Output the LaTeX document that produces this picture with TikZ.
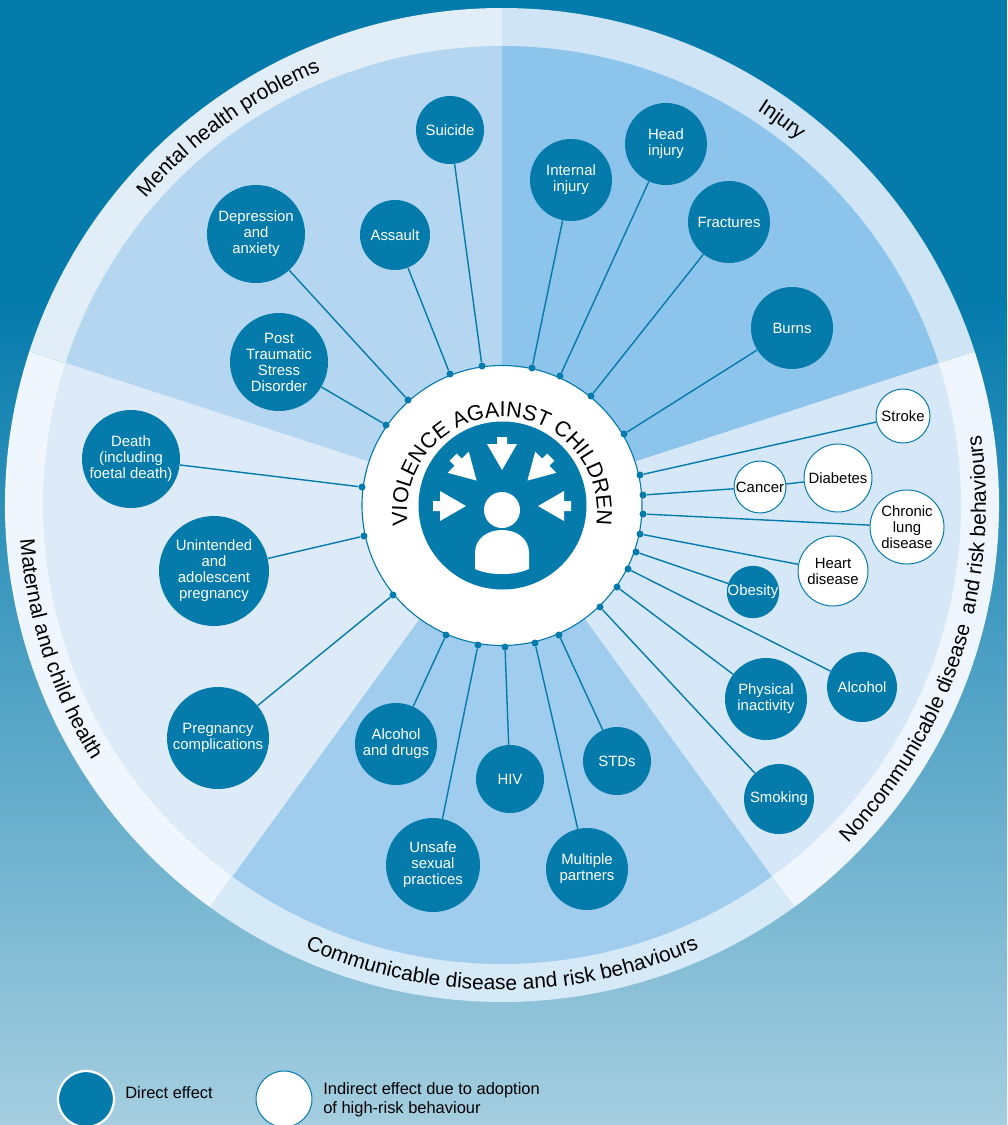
\documentclass[tikz,border=0pt]{standalone}
\usepackage{fontspec}
\setmainfont{Liberation Sans}
\usepackage{xcolor}
\usetikzlibrary{decorations.text}
\definecolor{vacblue}{HTML}{057BAC}
\definecolor{skyend}{HTML}{A5CEE0}
\definecolor{mentalin}{HTML}{B5D6F0}
\definecolor{mentalout}{HTML}{E1EEF8}
\definecolor{injuryin}{HTML}{8CC4EB}
\definecolor{injuryout}{HTML}{CFE5F5}
\definecolor{ncdin}{HTML}{D6E8F7}
\definecolor{ncdout}{HTML}{EEF5FC}
\definecolor{commin}{HTML}{A0CDED}
\definecolor{commout}{HTML}{D6E9F7}
\definecolor{matin}{HTML}{DDEBF8}
\definecolor{matout}{HTML}{F0F6FD}
\newcommand{\px}{0.025cm}
\newcommand{\bandfont}{\fontsize{14.9}{16}\selectfont}
\newcommand{\titlefont}{\fontsize{15.3}{16}\selectfont}

\begin{document}
\begin{tikzpicture}[x=0.025cm,y=-0.025cm,
                    every node/.style={font=\fontsize{10.6}{11.4}\selectfont},
                    direct/.style={circle,inner sep=0pt,fill=vacblue,text=white,align=center,minimum size=#1*\px},
                    indirect/.style={circle,inner sep=0pt,fill=white,draw=vacblue,line width=0.7pt,text=black,align=center,minimum size=#1*\px},
                    hubdot/.style={circle,inner sep=0pt,fill=vacblue,minimum size=7*\px},
                    link/.style={vacblue,line width=1pt},
                    legendtext/.style={anchor=west,align=left,inner sep=0pt,font=\fontsize{11.7}{13.6}\selectfont},
                    bandtext/.style={decorate,decoration={text along path,text align=center,text={|\bandfont|#1}}},
                   ]

% background
\useasboundingbox (0,0) rectangle (1007,1125);
\fill[vacblue] (0,0) rectangle (1007,300);
\shade[top color=vacblue,bottom color=skyend] (0,300) rectangle (1007,1125);

% wheel
\foreach \a/\cin/\cout in {-162/mentalin/mentalout,-90/injuryin/injuryout,-18/ncdin/ncdout,54/commin/commout,126/matin/matout}{
  \fill[\cout,shift={(502,505)}] (0,0) -- (\a:497) arc[start angle=\a,delta angle=72,radius=497] -- cycle;
  \fill[\cin,shift={(502,505)}] (0,0) -- (\a:459) arc[start angle=\a,delta angle=72,radius=459] -- cycle;
}

% band labels
\path[bandtext=Mental health problems,shift={(502,505)}] (-162:470) arc[start angle=-162,end angle=-90,radius=470];
\path[bandtext=Injury,shift={(502,505)}] (-90:470) arc[start angle=-90,end angle=-18,radius=470];
\path[bandtext=Noncommunicable disease{ } and risk behaviours,shift={(502,505)}] (70:484) arc[start angle=70,end angle=-34,radius=484];
\path[bandtext=Communicable disease and risk behaviours,shift={(502,505)}] (130:485) arc[start angle=130,end angle=50,radius=485];
\path[bandtext=Maternal and child health,shift={(502,505)}] (-162:483) arc[start angle=-162,end angle=-234,radius=483];

% hub
\node[circle,inner sep=0pt,fill=white,draw=vacblue,line width=0.8pt,minimum size=280*\px] (hub) at (502,505.5) {};
\node[circle,inner sep=0pt,fill=vacblue,minimum size=168*\px] (icon) at (502.5,505.5) {};
\path[decorate,decoration={text along path,text align=center,text={|\titlefont|VIOLENCE AGAINST CHILDREN}},shift={(502,512)}]
  (-205:95) arc[start angle=-205,end angle=25,radius=95];

% person
\fill[white] (502,510) circle (18);
\fill[white] (475,569) -- (475,553) .. controls (475,538) and (488,530) .. (502,530)
  .. controls (516,530) and (529,538) .. (529,553) -- (529,569)
  .. controls (520,573) and (511,574) .. (502,574) .. controls (493,574) and (484,573) .. (475,569) -- cycle;
\foreach \r in {-90,-45,0,45,90}{
  \fill[white,shift={(502,506)},rotate=\r] (0,-36) -- (15,-62) -- (5,-62) -- (5,-69) -- (-5,-69) -- (-5,-62) -- (-15,-62) -- cycle;
}

% mental health problems
\node[direct=68] (suicide) at (450,130) {Suicide};
\node[direct=98] (depression) at (256,234) {Depression\\and\\anxiety};
\node[direct=70] (assault) at (395,235) {Assault};
\node[direct=98] (ptsd) at (279,362) {Post\\Traumatic\\Stress\\Disorder};
\node[hubdot] (dotsuicide) at (482,366) {};
\node[hubdot] (dotdepression) at (408,400) {};
\node[hubdot] (dotassault) at (450,374) {};
\node[hubdot] (dotptsd) at (386,425) {};
\draw[link] (dotsuicide) -- (suicide);
\draw[link] (dotdepression) -- (depression);
\draw[link] (dotassault) -- (assault);
\draw[link] (dotptsd) -- (ptsd);

% injury
\node[direct=82] (internal) at (571,180) {Internal\\injury};
\node[direct=82] (head) at (666,144) {Head\\injury};
\node[direct=82] (fractures) at (729,222) {Fractures};
\node[direct=82] (burns) at (792,328) {Burns};
\node[hubdot] (dotinternal) at (532,368) {};
\node[hubdot] (dothead) at (560,376) {};
\node[hubdot] (dotfractures) at (591,396) {};
\node[hubdot] (dotburns) at (624,434) {};
\draw[link] (dotinternal) -- (internal);
\draw[link] (dothead) -- (head);
\draw[link] (dotfractures) -- (fractures);
\draw[link] (dotburns) -- (burns);

% noncommunicable disease
\node[indirect=54] (stroke) at (903,416) {Stroke};
\node[indirect=52] (cancer) at (760,487) {Cancer};
\node[indirect=68] (diabetes) at (838,478) {Diabetes};
\node[indirect=74] (chronic) at (907,527) {Chronic\\lung\\disease};
\node[indirect=70] (heart) at (833,571) {Heart\\disease};
\node[direct=52] (obesity) at (753,592) {Obesity};
\node[direct=70] (alcohol) at (862,687) {Alcohol};
\node[direct=82] (physical) at (766,699) {Physical\\inactivity};
\node[direct=70] (smoking) at (779,799) {Smoking};
\node[hubdot] (dotstroke) at (640,475) {};
\node[hubdot] (dotcancer) at (643,495) {};
\node[hubdot] (dotchronic) at (643,514) {};
\node[hubdot] (dotheart) at (640,534) {};
\node[hubdot] (dotobesity) at (636,552) {};
\node[hubdot] (dotalcohol) at (628,569) {};
\node[hubdot] (dotphysical) at (617,587) {};
\node[hubdot] (dotsmoking) at (600,607) {};
\draw[link] (dotstroke) -- (stroke);
\draw[link] (dotcancer) -- (cancer);
\draw[link] (cancer) -- (diabetes);
\draw[link] (dotchronic) -- (chronic);
\draw[link] (dotheart) -- (heart);
\draw[link] (dotobesity) -- (obesity);
\draw[link] (dotalcohol) -- (alcohol);
\draw[link] (dotphysical) -- (physical);
\draw[link] (dotsmoking) -- (smoking);

% communicable disease
\node[direct=68] (stds) at (617,761) {STDs};
\node[direct=82] (partners) at (587,869) {Multiple\\partners};
\node[direct=68] (hiv) at (510,779) {HIV};
\node[direct=94] (unsafe) at (433,865) {Unsafe\\sexual\\practices};
\node[direct=82] (drugs) at (396,744) {Alcohol\\and drugs};
\node[hubdot] (dotstds) at (559,635) {};
\node[hubdot] (dotpartners) at (535,643) {};
\node[hubdot] (dothiv) at (505,647) {};
\node[hubdot] (dotunsafe) at (478,645) {};
\node[hubdot] (dotdrugs) at (446,635) {};
\draw[link] (dotstds) -- (stds);
\draw[link] (dotpartners) -- (partners);
\draw[link] (dothiv) -- (hiv);
\draw[link] (dotunsafe) -- (unsafe);
\draw[link] (dotdrugs) -- (drugs);

% maternal and child health
\node[direct=98] (death) at (131,459) {Death\\(including\\foetal death)};
\node[direct=110] (unintended) at (214,571) {Unintended\\and\\adolescent\\pregnancy};
\node[direct=102] (complications) at (218,738) {Pregnancy\\complications};
\node[hubdot] (dotdeath) at (362,487) {};
\node[hubdot] (dotunintended) at (364,536) {};
\node[hubdot] (dotcomplications) at (393,595) {};
\draw[link] (dotdeath) -- (death);
\draw[link] (dotunintended) -- (unintended);
\draw[link] (dotcomplications) -- (complications);

% legend
\node[direct=56,draw=white,line width=1.6pt] (legdirect) at (86,1099) {};
\node[indirect=56] (legindirect) at (284,1099) {};
\node[legendtext] (txtdirect) at (125,1093) {Direct effect};
\node[legendtext] (txtindirect) at (323,1100) {Indirect effect due to adoption\\of high-risk behaviour};

\end{tikzpicture}
\end{document}
